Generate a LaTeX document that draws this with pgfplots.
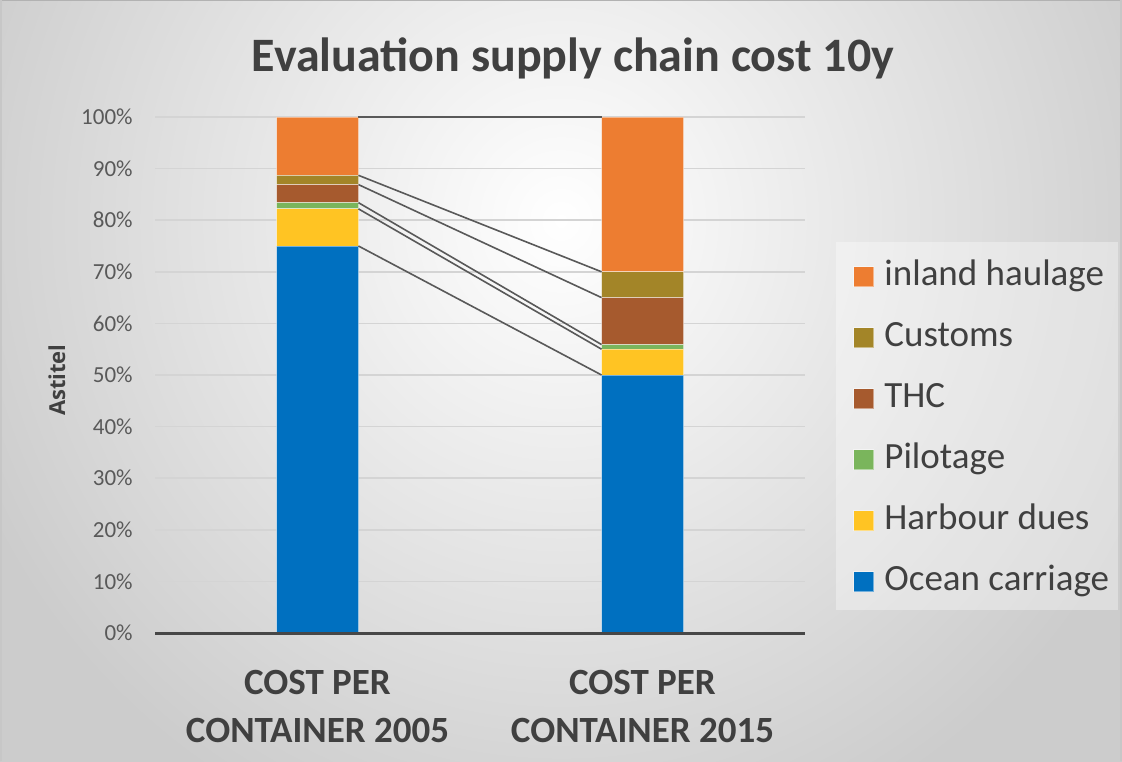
\documentclass[border=0pt]{standalone}
\usepackage{fontspec}
\setmainfont{Carlito}
\newfontfamily\labelfont{Open Sans}
\usepackage{pgfplots}
\pgfplotsset{compat=1.18}

\definecolor{ocean}{HTML}{0070C0}
\definecolor{harbour}{HTML}{FFC423}
\definecolor{pilot}{HTML}{7AB55C}
\definecolor{thc}{HTML}{A65A2E}
\definecolor{customs}{HTML}{A38528}
\definecolor{inland}{HTML}{ED7D31}
\definecolor{txtdark}{HTML}{404040}
\definecolor{txtmid}{HTML}{595959}

\pgfplotsset{
  sqlegend/.style={legend image code/.code={\fill[##1] (0pt,-5pt) rectangle (10pt,5pt);}},
  barstyle/.style={draw=white, draw opacity=0.45, line width=0.5pt, sqlegend},
  seriesline/.style={color=txtmid, line width=0.8pt, mark=none},
}

\begin{document}
\begin{tikzpicture}[x=1pt,y=1pt]
\path[use as bounding box] (0,0) rectangle (561,380.5);
\begin{scope}
\clip (0,0) rectangle (561,380.5);
\shade[inner color=white, outer color=black!20] (-40,-60) rectangle (601,600);
\end{scope}
\draw[black!30, line width=1.5pt] (0,380.5) -- (561,380.5);
\draw[black!22, line width=1pt] (0.5,0) -- (0.5,380.5);
\draw[black!22, line width=1pt] (560.5,0) -- (560.5,380.5);
% legend panel
\fill[white, opacity=0.35] (418,75.5) rectangle (559,259.5);

\node[anchor=base, font=\bfseries\fontsize{24}{28}\selectfont, text=txtdark] at (286.5,344.5) {Evaluation supply chain cost 10y};

\begin{axis}[
  at={(77.5pt,64pt)}, anchor=south west,
  scale only axis, width=325pt, height=258pt,
  xmin=-0.5, xmax=1.5, ymin=0, ymax=100,
  ybar stacked, bar width=41pt,
  xtick={0,1},
  xticklabels={{COST PER\\CONTAINER 2005},{COST PER\\CONTAINER 2015}},
  xticklabel style={font=\bfseries\fontsize{18.5}{23.7}\selectfont, text=txtdark, align=center, inner sep=0pt, yshift=-18.5pt},
  ytick={0,10,...,100},
  yticklabels={0\%,10\%,20\%,30\%,40\%,50\%,60\%,70\%,80\%,90\%,100\%},
  yticklabel style={font=\fontsize{11.5}{13}\selectfont, text=txtmid, inner sep=0pt, xshift=-11pt},
  ymajorgrids, grid style={black!17, line width=0.75pt},
  axis line style={draw=none}, major tick length=0pt,
  ylabel={Astitel},
  ylabel style={at={(axis description cs:-0.1508,0.49)}, anchor=center, font=\labelfont\bfseries\fontsize{11}{13}\selectfont, text=txtdark},
  reverse legend,
  legend cell align=left,
  legend style={at={(1.0738,0.7248)}, anchor=north west, draw=none, fill=none, inner sep=0pt,
    row sep=13pt, column sep=5pt,
    font=\fontsize{18.5}{21}\selectfont, text=txtdark,
    nodes={inner sep=0pt, text height=13pt, text depth=4.5pt}},
]
\addplot[fill=ocean, barstyle] coordinates {(0,75) (1,50)};
\addplot[fill=harbour, barstyle] coordinates {(0,7.2) (1,5)};
\addplot[fill=pilot, barstyle] coordinates {(0,1.2) (1,0.9)};
\addplot[fill=thc, barstyle] coordinates {(0,3.5) (1,9.1)};
\addplot[fill=customs, barstyle] coordinates {(0,1.8) (1,5)};
\addplot[fill=inland, barstyle] coordinates {(0,11.3) (1,30)};
\legend{Ocean carriage, Harbour dues, Pilotage, THC, Customs, inland haulage}
\end{axis}

\begin{axis}[
  at={(77.5pt,64pt)}, anchor=south west,
  scale only axis, width=325pt, height=258pt,
  xmin=-0.5, xmax=1.5, ymin=0, ymax=100,
  hide axis, clip=false,
]
\addplot[seriesline] coordinates {(0.126,75) (0.874,50)};
\addplot[seriesline] coordinates {(0.126,82.2) (0.874,55)};
\addplot[seriesline] coordinates {(0.126,83.4) (0.874,55.9)};
\addplot[seriesline] coordinates {(0.126,86.9) (0.874,65)};
\addplot[seriesline] coordinates {(0.126,88.7) (0.874,70)};
\addplot[seriesline] coordinates {(0.126,100) (0.874,100)};
\addplot[color=black!72, line width=1.5pt, mark=none] coordinates {(-0.5,0) (1.5,0)};
\end{axis}
\end{tikzpicture}
\end{document}
